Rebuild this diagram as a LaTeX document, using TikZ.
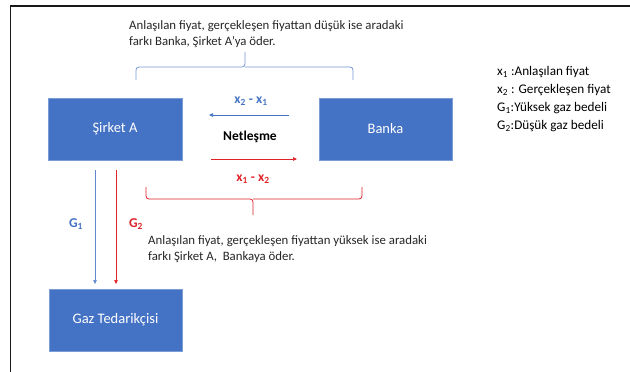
\documentclass[tikz,border=0pt]{standalone}
\usepackage{fontspec}
\setmainfont{Carlito}
\usetikzlibrary{arrows.meta}
\definecolor{obl}{HTML}{4472C4}
\definecolor{ored}{HTML}{E02228}
\definecolor{otext}{HTML}{262626}
\tikzset{
  box/.style={fill=obl, draw=obl!70!white, line width=0.4pt, text=white, font=\fontsize{14.5}{16}\selectfont, inner sep=0pt},
  note/.style={text=otext, font=\fontsize{12.8}{16}\selectfont, align=left, inner sep=0pt, anchor=north west},
  legend/.style={text=black, font=\fontsize{13.2}{18}\selectfont, align=left, inner sep=0pt, anchor=north west},
  blab/.style={font=\bfseries\fontsize{13.5}{15}\selectfont, inner sep=0pt},
  arr/.style={-{Triangle[length=4pt,width=3.5pt]}, line width=0.7pt},
  brace/.style={line width=0.8pt, rounded corners=3pt},
}
\begin{document}
\begin{tikzpicture}[x=1pt,y=-1pt]
\useasboundingbox (0,0) rectangle (630,372);
% frame
\draw[line width=1.6pt, black!90] (10.5,372) -- (10.5,6) -- (630,6);

% boxes
\node[box, minimum width=134pt, minimum height=62pt] (sa) at (115,129) {Şirket A};
\node[box, minimum width=133pt, minimum height=62pt] (bk) at (385.5,129) {Banka};
\node[box, minimum width=133pt, minimum height=62pt] (gt) at (115.5,320) {Gaz Tedarikçisi};

% top note
\node[note] (tn) at (129,20) {Anlaşılan fiyat, gerçekleşen fiyattan düşük ise aradaki\\farkı Banka, Şirket A’ya öder.};
% top brace
\coordinate (tb1) at (136,80);
\coordinate (tb2) at (353,80);
\coordinate (tbt) at (245,52);
\draw[brace, obl!75!white] (tb1) -- (136,67) -- (245,67) -- (tbt);
\draw[brace, obl!75!white] (tb2) -- (353,67) -- (245,67);

% legend
\node[legend] (lg) at (497,66) {x\textsubscript{1} :Anlaşılan fiyat\\x\textsubscript{2} : Gerçekleşen fiyat\\G\textsubscript{1}:Yüksek gaz bedeli\\G\textsubscript{2}:Düşük gaz bedeli};

% netting arrows
\coordinate (ba1) at (289,115);
\coordinate (ba2) at (209,115);
\draw[arr, obl] (ba1) -- (ba2);
\node[blab, text=obl] (l21) at (251,101) {x\textsubscript{2} - x\textsubscript{1}};
\node[blab, text=black] (net) at (250,137) {Netleşme};
\coordinate (ra1) at (211,159);
\coordinate (ra2) at (297,159);
\draw[arr, ored] (ra1) -- (ra2);
\node[blab, text=ored] (l12) at (253,179) {x\textsubscript{1} - x\textsubscript{2}};

% red brace
\coordinate (rb1) at (146,187);
\coordinate (rb2) at (362,187);
\coordinate (rbt) at (253,215);
\draw[brace, ored] (rb1) -- (146,199) -- (253,199) -- (rbt);
\draw[brace, ored] (rb2) -- (362,199) -- (253,199);

% vertical arrows
\coordinate (g1a) at (95,170);
\coordinate (g1b) at (95,284);
\coordinate (g2a) at (116,170);
\coordinate (g2b) at (116,284);
\draw[arr, obl!85!white, line width=0.6pt] (g1a) -- (g1b);
\draw[arr, ored, line width=0.6pt] (g2a) -- (g2b);
\node[blab, text=obl] (g1) at (76,224) {G\textsubscript{1}};
\node[blab, text=ored] (g2) at (136,224) {G\textsubscript{2}};

% bottom note
\node[note] (bn) at (148,235) {Anlaşılan fiyat, gerçekleşen fiyattan yüksek ise aradaki\\farkı Şirket A,\ \ Bankaya öder.};
\end{tikzpicture}
\end{document}
